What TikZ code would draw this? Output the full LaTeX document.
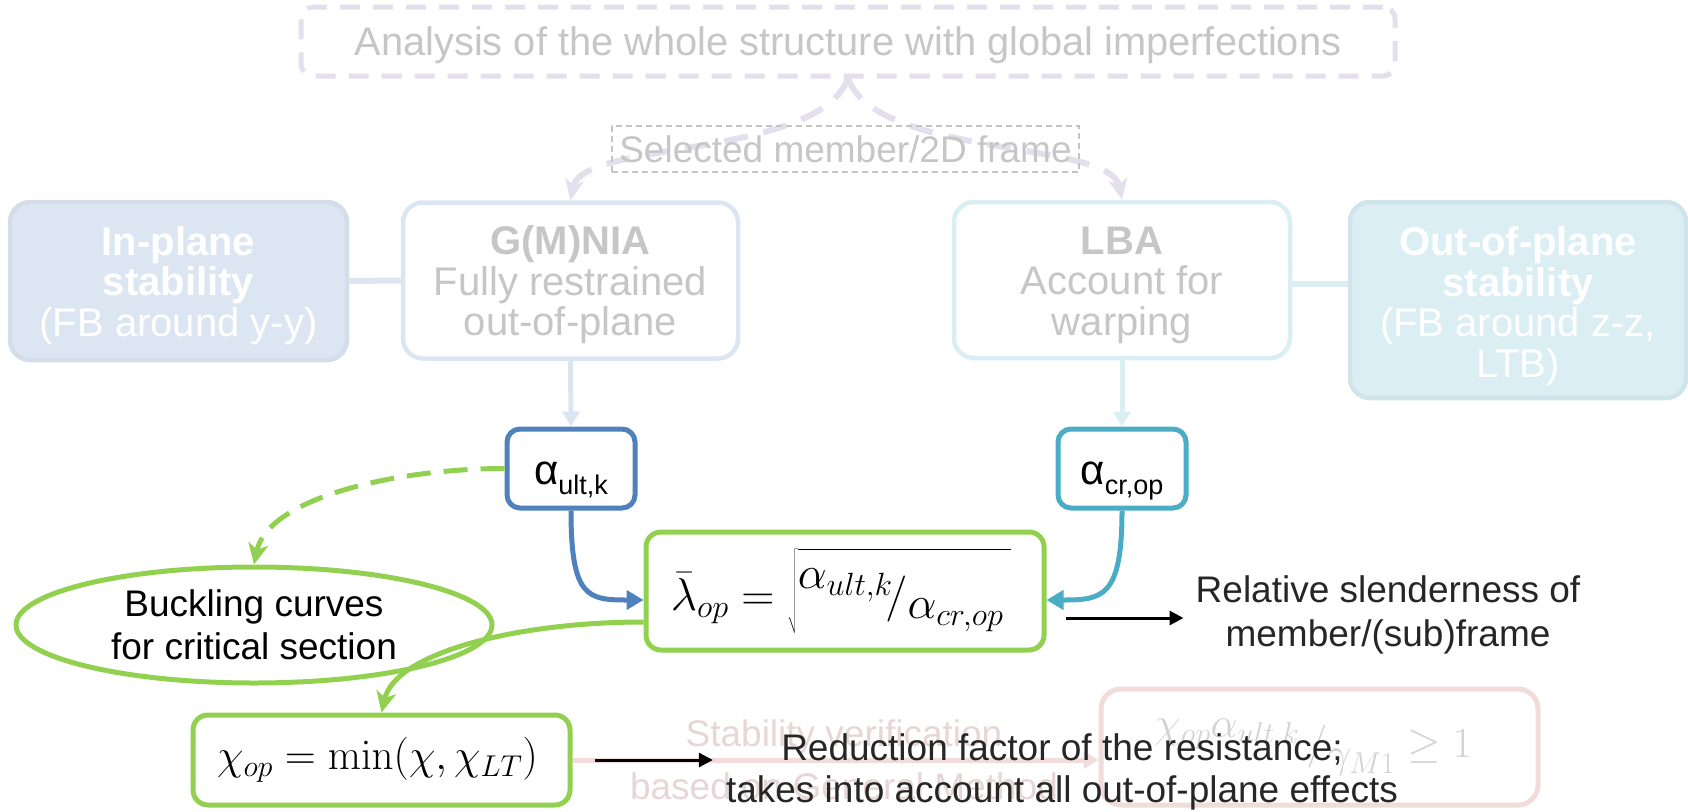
\RequirePackage{fix-cm}
\documentclass[tikz,border=0pt]{standalone}
\usepackage[no-math]{fontspec}
\setmainfont{Liberation Sans}
\usetikzlibrary{arrows.meta,shapes.geometric,calc}

\definecolor{lav}{HTML}{E4DFEC}
\definecolor{fadetxt}{HTML}{C6C6C6}
\definecolor{selbd}{HTML}{C4C4C4}
\definecolor{bluelt}{HTML}{DCE6F2}
\definecolor{bluebd}{HTML}{D4DEEA}
\definecolor{aqualt}{HTML}{DAEEF3}
\definecolor{aquabd}{HTML}{D0E5EB}
\definecolor{ultblue}{HTML}{4F81BD}
\definecolor{crteal}{HTML}{4BACC6}
\definecolor{grn}{HTML}{92D050}
\definecolor{pinkbd}{HTML}{F2DCDB}
\definecolor{pinktxt}{HTML}{E6D6D6}
\definecolor{fadeform}{HTML}{D2D2D2}
\definecolor{darktxt}{HTML}{262626}

% alpha with a sans subscript, as in the value boxes
\newcommand\valsym[1]{{\fontsize{42}{42}\selectfont α}\raisebox{-10pt}{\fontsize{27}{27}\selectfont #1}}
% invisible strut that lowers the text block of a panel
\newcommand\lowerby[1]{\rule{0pt}{#1}}

\begin{document}
\begin{tikzpicture}[x=1pt,y=-1pt,
  panel/.style={rounded corners=20pt, line width=4.5pt, align=center, inner sep=0pt,
    font=\fontsize{40}{40.5}\selectfont},
  valbox/.style={rounded corners=13pt, line width=5pt, fill=white, minimum width=128pt,
    minimum height=79pt, inner sep=0pt, text height=38pt, text depth=7pt},
  grnbox/.style={draw=grn, rounded corners=15pt, line width=5pt, fill=white, inner sep=0pt},
  note/.style={align=center, inner sep=0pt, text=darktxt},
  link/.style={line width=6pt},
  feed/.style={line width=5pt, -{Triangle[length=15pt,width=17pt]}},
  bendarrow/.style={line width=5pt, -{Triangle[length=17pt,width=19pt]}},
  greenarrow/.style={line width=5pt, draw=grn, -{Stealth[length=21pt,width=20pt,inset=6pt]}},
  lavarrow/.style={line width=6pt, draw=lav, dash pattern=on 24pt off 16pt,
    -{Stealth[length=21pt,width=19pt,inset=6pt]}},
  blk/.style={line width=3pt, -{Triangle[length=14pt,width=14pt]}}]

\useasboundingbox (0,0) rectangle (1688,811);

% ---------- faded verification step ----------
\node[grnbox, minimum width=377pt, minimum height=90pt] (chi) at (381.5,760)
  {{\fontsize{43}{43}\selectfont $\chi_{op}=\min(\chi,\chi_{LT})$}\hspace*{8pt}};
\node[draw=pinkbd, rounded corners=20pt, line width=5pt, minimum width=437pt,
  minimum height=116pt, inner sep=0pt, text=fadeform] (pink) at (1319.5,747)
  {{\fontsize{43}{43}\selectfont $\raisebox{20pt}{$\chi_{op}\alpha_{ult,k}$}\,/\raisebox{-10pt}{$\gamma_{M1}$}\geq 1$}\hspace*{12pt}};
\draw[line width=5pt, pinkbd, -{Triangle[length=15pt,width=17pt]}]
  (chi.east) -- (chi.east -| pink.west);
\node[note, text=pinktxt, font=\fontsize{37}{53}\selectfont] (verif) at (844,760)
  {Stability verification\\based on General Method};

% ---------- global analysis ----------
\node[draw=lav, rounded corners=12pt, line width=5pt, dash pattern=on 20pt off 13pt,
  minimum width=1094pt, minimum height=69pt, inner sep=0pt, text=fadetxt,
  text height=32pt, text depth=3.5pt,
  font=\fontsize{39.8}{40}\selectfont] (top) at (848,41.5)
  {Analysis of the whole structure with global imperfections};

% ---------- analysis types ----------
\node[panel, fill=bluelt, draw=bluebd, minimum width=337pt, minimum height=158pt,
  text=white] (inplane) at (178.5,281)
  {\lowerby{38pt}\textbf{In-plane}\\\textbf{stability}\\(FB around y-y)};
\node[panel, fill=white, draw=bluelt, minimum width=335pt, minimum height=156pt,
  text=fadetxt] (gmnia) at (570.5,280.5)
  {\lowerby{38pt}\textbf{G(M)NIA}\\Fully restrained\\out-of-plane};
\node[panel, fill=white, draw=aqualt, minimum width=336pt, minimum height=156pt,
  text=fadetxt] (lba) at (1122,280)
  {\lowerby{38pt}\textbf{LBA}\\Account for\\warping};
\node[panel, fill=aqualt, draw=aquabd, minimum width=336pt, minimum height=196pt,
  text=white] (oop) at (1518,300)
  {\lowerby{41pt}\textbf{Out-of-plane}\\\textbf{stability}\\(FB around z-z,\\LTB)};

\draw[link, bluelt] (inplane.east) -- (gmnia.west);
\draw[link, aqualt] ([yshift=-4pt]lba.east) -- ([yshift=-4pt]lba.east -| oop.west);

\draw[lavarrow] (top.south) .. controls ($(top.south)+(-30,80)$) and
  ($(gmnia.north)+(12,-60)$) .. (gmnia.north);
\draw[lavarrow] (top.south) .. controls ($(top.south)+(30,80)$) and
  ($(lba.north)+(-12,-60)$) .. (lba.north);

\node[draw=selbd, line width=1.5pt, dash pattern=on 6pt off 4pt, minimum width=467pt,
  minimum height=46pt, inner sep=0pt, text=fadetxt, font=\fontsize{37}{37}\selectfont]
  (sel) at (845.5,149) {Selected member/2D frame};

% ---------- load multipliers ----------
\node[valbox, draw=ultblue] (aul) at (571,468.5) {\valsym{ult,k}};
\node[valbox, draw=crteal] (acr) at (1122,468.5) {\valsym{cr,op}};

\draw[feed, bluelt] (gmnia.south) -- (aul.north);
\draw[feed, aqualt] (lba.south) -- (acr.north);

% ---------- slenderness ----------
\node[grnbox, minimum width=398pt, minimum height=118pt] (lam) at (845,591)
  {{\fontsize{46}{46}\selectfont $\bar{\lambda}_{op} = \sqrt{\rule[-16pt]{0pt}{75pt}\raisebox{22pt}{$\alpha_{ult,k}$}\!/\raisebox{-8pt}{$\alpha_{cr,op}$}\,}$}\hspace*{8pt}};

\node[ellipse, draw=grn, line width=5pt, minimum width=476pt, minimum height=116pt,
  inner sep=0pt, align=center, text=black, font=\fontsize{37}{43}\selectfont]
  (ell) at (254,625) {Buckling curves\\for critical section};

\draw[bendarrow, ultblue] (aul.south) .. controls ($(aul.south)+(0,87)$) and
  ($(lam.west)+(-56,9)$) .. ($(lam.west)+(0,9)$);
\draw[bendarrow, crteal] (acr.south) .. controls ($(acr.south)+(0,87)$) and
  ($(lam.east)+(56,9)$) .. ($(lam.east)+(0,9)$);

\draw[greenarrow, dash pattern=on 24pt off 13pt] (aul.west) .. controls
  ($(aul.west)+(-107,0)$) and ($(ell.north)+(14,-67)$) .. (ell.north);
\draw[greenarrow] ($(lam.west)+(0,31)$) .. controls ($(lam.west)+(-126,31)$) and
  ($(chi.north)+(14,-60)$) .. (chi.north);

% ---------- explanations ----------
\node[note, font=\fontsize{37}{44}\selectfont, inner xsep=12pt] (rel) at (1388,615.4)
  {Relative slenderness of\\member/(sub)frame};
\node[note, font=\fontsize{37}{42}\selectfont, inner xsep=13pt] (red) at (1062,772.4)
  {Reduction factor of the resistance;\\takes into account all out-of-plane effects};

\coordinate (lamout) at ($(lam.east)+(19,27)$);
\coordinate (chiout) at ($(chi.east)+(22,0)$);
\draw[blk] (lamout) -- (lamout -| rel.west);
\draw[blk] (chiout) -- (chiout -| red.west);

\end{tikzpicture}
\end{document}
